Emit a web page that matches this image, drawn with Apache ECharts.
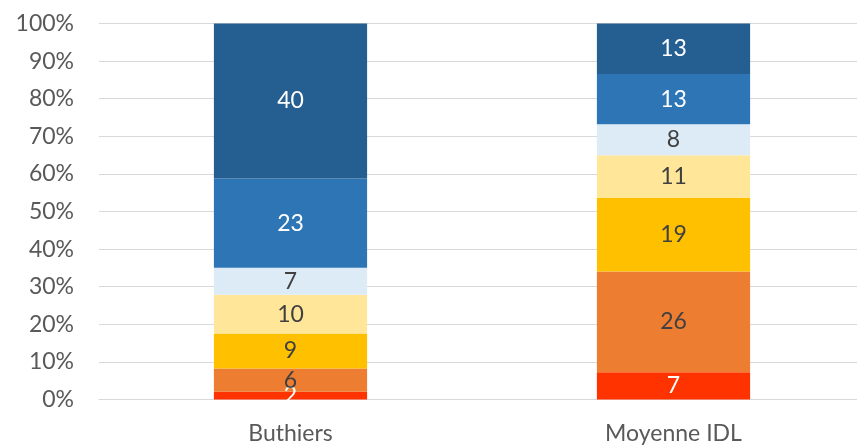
<!DOCTYPE html>
<html>
<head>
<meta charset="utf-8">
<script src="https://cdn.jsdelivr.net/npm/echarts@6/dist/echarts.min.js"></script>
<style>
  html, body { margin: 0; padding: 0; background: #fff; overflow: hidden; }
  #chart { width: 865px; height: 446px; }
</style>
</head>
<body>
<div id="chart"></div>
<script>
// categories and raw values, bottom segment first
var categories = ['Buthiers', 'Moyenne IDL'];
var seriesNames = ['s1', 's2', 's3', 's4', 's5', 's6', 's7'];
var s1 = [2, 7];
var s2 = [6, 26];
var s3 = [9, 19];
var s4 = [10, 11];
var s5 = [7, 8];
var s6 = [23, 13];
var s7 = [40, 13];
var yTicks = [0, 10, 20, 30, 40, 50, 60, 70, 80, 90, 100];

var rawValues = [s1, s2, s3, s4, s5, s6, s7];
var colors = ['#FF3300', '#ED7D31', '#FFC000', '#FFE699', '#DDEBF7', '#2E75B6', '#255E91'];
var labelColors = ['#ffffff', '#404040', '#404040', '#404040', '#404040', '#ffffff', '#ffffff'];

// totals per category, for 100% stacking
var totals = categories.map(function(c, i) {
	var t = 0;
	rawValues.forEach(function(arr) { t += arr[i]; });
	return t;
});

var series = rawValues.map(function(arr, k) {
	return {
		name: seriesNames[k],
		type: 'bar',
		stack: 'total',
		barWidth: '40%',
		itemStyle: { color: colors[k] },
		label: {
			show: true,
			position: 'inside',
			color: labelColors[k],
			fontFamily: 'Lato',
			fontSize: 23,
			formatter: function(p) { return arr[p.dataIndex]; }
		},
		data: arr.map(function(v, i) { return v / totals[i] * 100; })
	};
});

var chart = echarts.init(document.getElementById('chart'));
chart.setOption({
	animation: false,
	grid: { left: 99, right: 0, top: 23.5, bottom: 46.5, containLabel: false },
	xAxis: {
		type: 'category',
		data: categories,
		axisLine: { lineStyle: { color: '#d9d9d9', width: 1 } },
		axisTick: { show: false },
		axisLabel: { color: '#595959', fontFamily: 'Lato', fontSize: 23, margin: 23 }
	},
	yAxis: {
		type: 'value',
		min: yTicks[0],
		max: yTicks[yTicks.length - 1],
		interval: 10,
		axisLine: { show: false },
		axisTick: { show: false },
		splitLine: { lineStyle: { color: '#d9d9d9', width: 1 } },
		axisLabel: {
			color: '#595959',
			fontFamily: 'Lato',
			fontSize: 23,
			margin: 25,
			formatter: function(v) { return v + '%'; }
		}
	},
	series: series
});
</script>
</body>
</html>
